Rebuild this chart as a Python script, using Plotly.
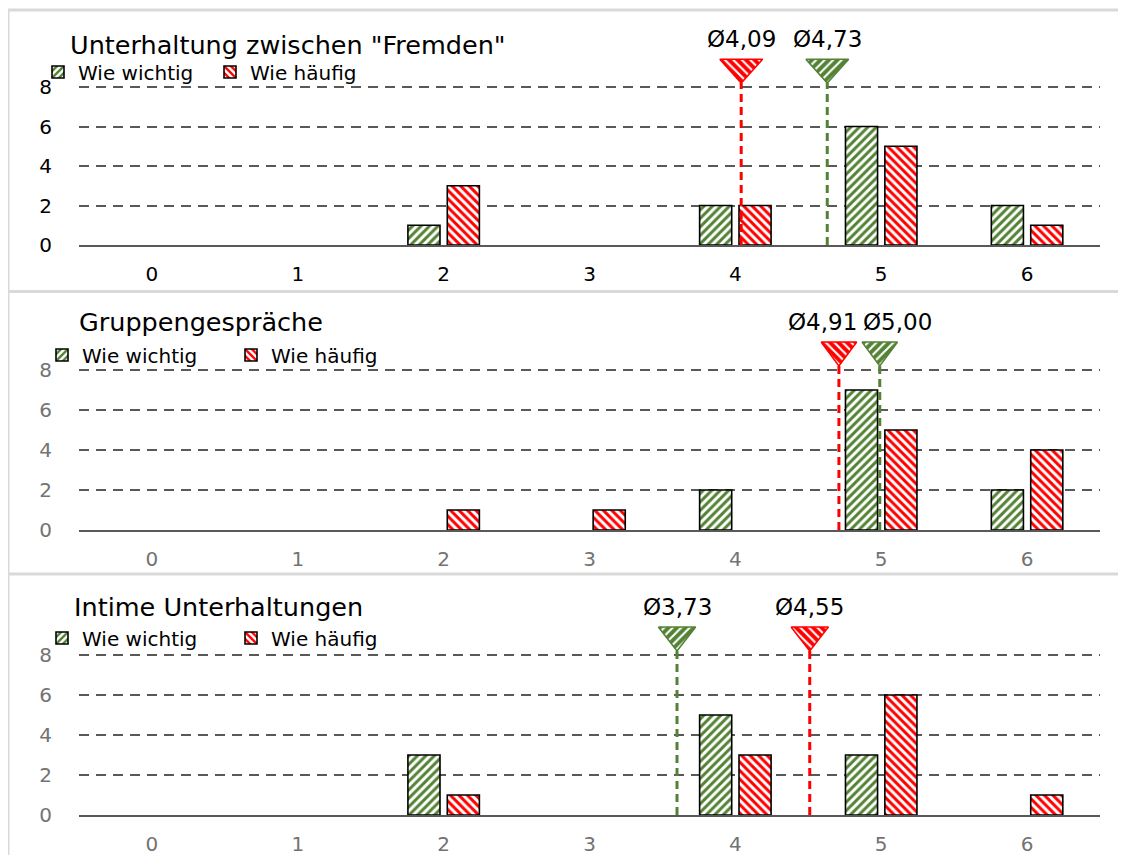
import plotly.graph_objects as go

categories = [0, 1, 2, 3, 4, 5, 6]
panel_titles = ['Unterhaltung zwischen "Fremden"', 'Gruppengespräche', 'Intime Unterhaltungen']
series_names = ["Wie wichtig", "Wie häufig"]

wichtig_fremde = [0, 0, 1, 0, 2, 6, 2]
haeufig_fremde = [0, 0, 3, 0, 2, 5, 1]
wichtig_gruppe = [0, 0, 0, 0, 2, 7, 2]
haeufig_gruppe = [0, 0, 1, 1, 0, 5, 4]
wichtig_intim = [0, 0, 3, 0, 5, 3, 0]
haeufig_intim = [0, 0, 1, 0, 3, 6, 1]

# mean markers: position where drawn on the axis, and their labels
mean_x_wichtig = [4.63, 4.99, 3.60]
mean_x_haeufig = [4.04, 4.71, 4.51]
mean_lbl_wichtig = ["Ø4,73", "Ø5,00", "Ø3,73"]
mean_lbl_haeufig = ["Ø4,09", "Ø4,91", "Ø4,55"]

y_tickvals = [0, 2, 4, 6, 8]

GREEN = "#548235"
RED = "#FF0000"
OFF = 8      # page body margin
SY = 0.986   # observed vertical rendering factor
W = 1126 - 2 * OFF
H = 859
FAM = "DejaVu Sans"

wichtig = [wichtig_fremde, wichtig_gruppe, wichtig_intim]
haeufig = [haeufig_fremde, haeufig_gruppe, haeufig_intim]


def px_x(v):
    return (v - OFF) / W


def px_y(v):
    return 1 - ((v - OFF) / SY) / H


# panel geometry (screen pixels)
panels = [
    dict(top=25, bottom=245, title_y=45, title_x=68, leg_y=72, leg_x=38, leg_w=127,
         tickcol="#000000", lbl_shift=(0, 0), tri_half=0.147),
    dict(top=300, bottom=530, title_y=322, title_x=77, leg_y=355, leg_x=42, leg_w=144,
         tickcol="#737373", lbl_shift=(18, -16), tri_half=0.122),
    dict(top=585, bottom=815, title_y=607, title_x=72, leg_y=638, leg_x=42, leg_w=144,
         tickcol="#737373", lbl_shift=(0, 0), tri_half=0.128),
]
scales = [19.75, 20.0, 20.0]  # pixels per unit on screen

fig = go.Figure()
layout = dict(
    width=W, height=H, margin=dict(l=0, r=0, t=0, b=0),
    paper_bgcolor="white", plot_bgcolor="white", showlegend=True,
    barmode="overlay", annotations=[], shapes=[],
)

BAR_W = 0.22
TRI_TOP, TRI_TIP = 9.4, 8.2


def nz(vals):
    return [v if v else None for v in vals]


for i, p in enumerate(panels):
    ax = "" if i == 0 else str(i + 1)
    xa, ya = "x" + ax, "y" + ax
    leg = "legend" + ax
    th = p["tri_half"]

    fig.add_trace(go.Bar(
        x=categories, y=nz(wichtig[i]), name=series_names[0], xaxis=xa, yaxis=ya, legend=leg,
        width=BAR_W, offset=-0.245,
        marker=dict(color="white", line=dict(color="black", width=1.6),
                    pattern=dict(shape="/", fgcolor=GREEN, bgcolor="white", fgopacity=1,
                                 size=6, solidity=0.5)),
    ))
    fig.add_trace(go.Bar(
        x=categories, y=nz(haeufig[i]), name=series_names[1], xaxis=xa, yaxis=ya, legend=leg,
        width=BAR_W, offset=0.025,
        marker=dict(color="white", line=dict(color="black", width=1.6),
                    pattern=dict(shape="\\", fgcolor=RED, bgcolor="white", fgopacity=1,
                                 size=6, solidity=0.5)),
    ))

    for mx, lbl, col, shp, shift in [
        (mean_x_haeufig[i], mean_lbl_haeufig[i], RED, "\\", p["lbl_shift"][1]),
        (mean_x_wichtig[i], mean_lbl_wichtig[i], GREEN, "/", p["lbl_shift"][0]),
    ]:
        fig.add_trace(go.Scatter(
            x=[mx, mx], y=[0, TRI_TIP], mode="lines", xaxis=xa, yaxis=ya, showlegend=False,
            line=dict(color=col, width=3, dash="8px,5px"), hoverinfo="skip",
        ))
        fig.add_trace(go.Scatter(
            x=[mx - th, mx + th, mx, mx - th],
            y=[TRI_TOP, TRI_TOP, TRI_TIP, TRI_TOP],
            mode="lines", fill="toself", xaxis=xa, yaxis=ya, showlegend=False,
            line=dict(color=col, width=1.5),
            fillcolor=col,
            fillpattern=dict(shape=shp, fgcolor="white", bgcolor=col, fgopacity=1,
                             size=6, solidity=0.35),
            hoverinfo="skip",
        ))
        layout["annotations"].append(dict(
            x=mx, y=TRI_TOP + 0.25, xref=xa, yref=ya, text=lbl, showarrow=False,
            xanchor="center", yanchor="bottom", xshift=shift,
            font=dict(family=FAM, size=23, color="#000000"),
        ))

    ymax = (p["bottom"] - p["top"]) / scales[i]
    dom = [px_y(p["bottom"]), px_y(p["top"])]
    layout["xaxis" + ax] = dict(
        domain=[px_x(79), px_x(1100)], range=[-0.5, 6.5], anchor=ya,
        tickvals=categories, ticktext=[str(c) for c in categories],
        showgrid=False, zeroline=False, showline=True, linecolor="#595959", linewidth=2,
        ticks="", ticklabelstandoff=10,
        tickfont=dict(family=FAM, size=20, color=p["tickcol"]), fixedrange=True,
    )
    layout["yaxis" + ax] = dict(
        domain=dom, range=[0, ymax], anchor=xa,
        tickvals=y_tickvals, showgrid=True, gridcolor="#595959", gridwidth=2, griddash="10px,7px",
        zeroline=False, showline=False, ticks="", ticklabelstandoff=26,
        tickfont=dict(family=FAM, size=20, color=p["tickcol"]), fixedrange=True,
    )
    layout[leg] = dict(
        x=px_x(p["leg_x"]), xanchor="left", y=px_y(p["leg_y"]), yanchor="middle",
        orientation="h", bgcolor="rgba(0,0,0,0)", borderwidth=0,
        font=dict(family=FAM, size=20, color="#000000"),
        entrywidth=p["leg_w"], entrywidthmode="pixels", itemwidth=30,
        tracegroupgap=0,
    )
    layout["annotations"].append(dict(
        x=px_x(p["title_x"]), y=px_y(p["title_y"]), xref="paper", yref="paper",
        text=panel_titles[i], showarrow=False, xanchor="left", yanchor="middle",
        font=dict(family=FAM, size=25.5, color="#000000"),
    ))

# panel frames
FR = "#d9d9d9"
for yy in [10, 291.5, 574]:
    layout["shapes"].append(dict(type="line", xref="paper", yref="paper",
                                 x0=px_x(7), x1=1, y0=px_y(yy), y1=px_y(yy),
                                 line=dict(color=FR, width=3)))
layout["shapes"].append(dict(type="line", xref="paper", yref="paper",
                             x0=px_x(8), x1=px_x(8), y0=0, y1=px_y(10),
                             line=dict(color=FR, width=3)))

fig.update_layout(**layout)
fig.write_html("out.html")
